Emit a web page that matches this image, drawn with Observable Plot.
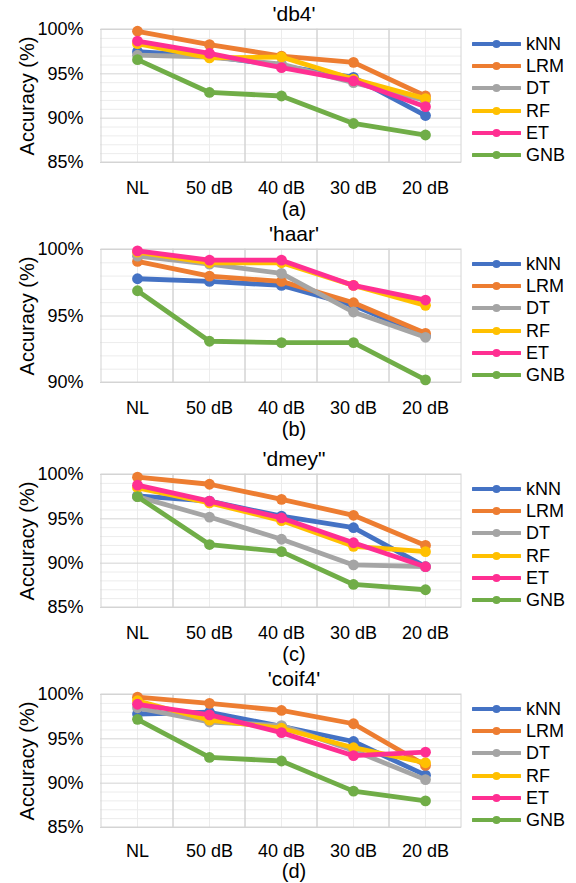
<!DOCTYPE html>
<html>
<head>
<meta charset="utf-8">
<script src="https://cdn.jsdelivr.net/npm/d3@7"></script>
<script src="https://cdn.jsdelivr.net/npm/@observablehq/plot@0.6"></script>
<style>
  body { margin: 0; background: #fff; font-family: "Liberation Sans", Arial, sans-serif; }
  #chart { width: 576px; }
  .panel { position: relative; width: 576px; height: 220px; }
  .panel svg { display: block; }
  .legend { position: absolute; left: 472px; top: 33px; }
  .legend .item { display: flex; align-items: center; height: 22.2px; font-size: 18px; color: #000; }
  .legend .item span { margin-left: 5px; line-height: 1; }
</style>
</head>
<body>
<div id="chart"></div>
<script>
// Noise levels on the x axis
const levels = ["NL", "50 dB", "40 dB", "30 dB", "20 dB"];
// Classifiers, one line each
const models = ["kNN", "LRM", "DT", "RF", "ET", "GNB"];
const colors = ["#4472C4", "#ED7D31", "#A5A5A5", "#FFC000", "#FF2F92", "#70AD47"];

// Panel headings and captions
const wavelets = ["'db4'", "'haar'", "'dmey\"", "'coif4'"];
const tags = ["(a)", "(b)", "(c)", "(d)"];
const yMins = [85, 90, 85, 85];
const yLabel = "Accuracy (%)";

// Accuracy (%) per classifier (rows follow `models`, columns follow `levels`)
const db4 = [
  [97.5, 97.0, 95.9, 94.6, 90.3],
  [99.8, 98.3, 97.0, 96.3, 92.5],
  [97.1, 96.9, 96.1, 94.0, 92.0],
  [98.4, 96.8, 96.9, 94.4, 92.2],
  [98.7, 97.3, 95.7, 94.2, 91.3],
  [96.6, 92.9, 92.5, 89.4, 88.1]
];
const haar = [
  [97.8, 97.6, 97.3, 95.8, 93.5],
  [99.1, 98.0, 97.6, 96.0, 93.7],
  [99.5, 98.9, 98.2, 95.3, 93.4],
  [99.8, 99.0, 99.0, 97.3, 95.8],
  [99.9, 99.2, 99.2, 97.3, 96.2],
  [96.9, 93.1, 93.0, 93.0, 90.2]
];
const dmey = [
  [97.6, 97.0, 95.3, 94.0, 89.6],
  [99.7, 98.9, 97.2, 95.4, 92.0],
  [97.5, 95.2, 92.7, 89.8, 89.6],
  [98.5, 96.8, 94.8, 91.9, 91.3],
  [98.8, 97.0, 95.1, 92.3, 89.6],
  [97.5, 92.1, 91.3, 87.6, 87.0]
];
const coif4 = [
  [97.8, 98.0, 96.4, 94.7, 90.9],
  [99.7, 99.0, 98.2, 96.7, 92.0],
  [98.5, 96.9, 96.5, 93.7, 90.4],
  [99.3, 97.1, 96.2, 94.0, 92.3],
  [98.9, 97.7, 95.7, 93.1, 93.5],
  [97.2, 92.9, 92.5, 89.1, 88.0]
];
const tables = [db4, haar, dmey, coif4];

const majorGrid = "#d4d4d4";
const minorGrid = "#ececec";
const font = "'Liberation Sans', Arial, sans-serif";

const chart = document.getElementById("chart");

tables.forEach((table, p) => {
  const rows = [];
  table.forEach((vals, m) => vals.forEach((v, i) => rows.push({model: models[m], level: levels[i], acc: v})));
  const yMin = yMins[p];
  const majors = d3.range(yMin, 100.001, 5);
  const minors = d3.range(yMin, 100.001, 1).filter(v => v % 5 !== 0);
  const last = p === tables.length - 1;

  // each classifier: its line, then its markers on top
  const seriesMarks = models.flatMap((m, k) => {
    const pts = rows.filter(r => r.model === m);
    return [
      Plot.line(pts, {x: "level", y: "acc", stroke: colors[k], strokeWidth: 4.8}),
      Plot.dot(pts, {x: "level", y: "acc", fill: colors[k], r: 5.4})
    ];
  });

  const svg = Plot.plot({
    width: 576,
    height: last ? 218 : 220,
    marginLeft: 100,
    marginRight: 115,
    marginTop: 29,
    marginBottom: last ? 56 : 58,
    style: {fontFamily: font, fontSize: "18px", color: "#000", background: "#fff"},
    x: {type: "band", domain: levels, padding: 0, tickSize: 0, tickPadding: last ? 17 : 19, label: null},
    y: {domain: [yMin, 100], ticks: majors, tickFormat: d => d + "%", tickSize: 0, tickPadding: 17, label: null},
    marks: [
      Plot.ruleY(minors, {stroke: minorGrid}),
      Plot.ruleX(levels, {x: d => d, stroke: minorGrid}),
      Plot.ruleY(majors, {stroke: majorGrid}),
      Plot.cell(levels, {x: d => d, fill: "none", stroke: majorGrid}),
      ...seriesMarks,
      Plot.text([wavelets[p]], {frameAnchor: "top", lineAnchor: "middle", dx: 13, dy: -15, fontSize: 21}),
      Plot.text([tags[p]], {frameAnchor: "bottom", lineAnchor: "middle", dx: 13, dy: last ? 44 : 47, fontSize: 20}),
      Plot.text([yLabel], {frameAnchor: "left", textAnchor: "middle", lineAnchor: "middle", dx: -73, rotate: -90, fontSize: 20})
    ]
  });

  const panel = document.createElement("div");
  panel.className = "panel";
  if (last) panel.style.height = "218px";
  if (p === 2) panel.style.marginTop = "5px";
  panel.appendChild(svg);

  const legend = document.createElement("div");
  legend.className = "legend";
  models.forEach((m, k) => {
    const item = document.createElement("div");
    item.className = "item";
    item.innerHTML =
      `<svg width="49" height="12"><line x1="1" x2="48" y1="6" y2="6" stroke="${colors[k]}" stroke-width="4" stroke-linecap="round"/>` +
      `<circle cx="24.5" cy="6" r="4" fill="${colors[k]}"/></svg><span>${m}</span>`;
    legend.appendChild(item);
  });
  panel.appendChild(legend);
  chart.appendChild(panel);
});
</script>
</body>
</html>
